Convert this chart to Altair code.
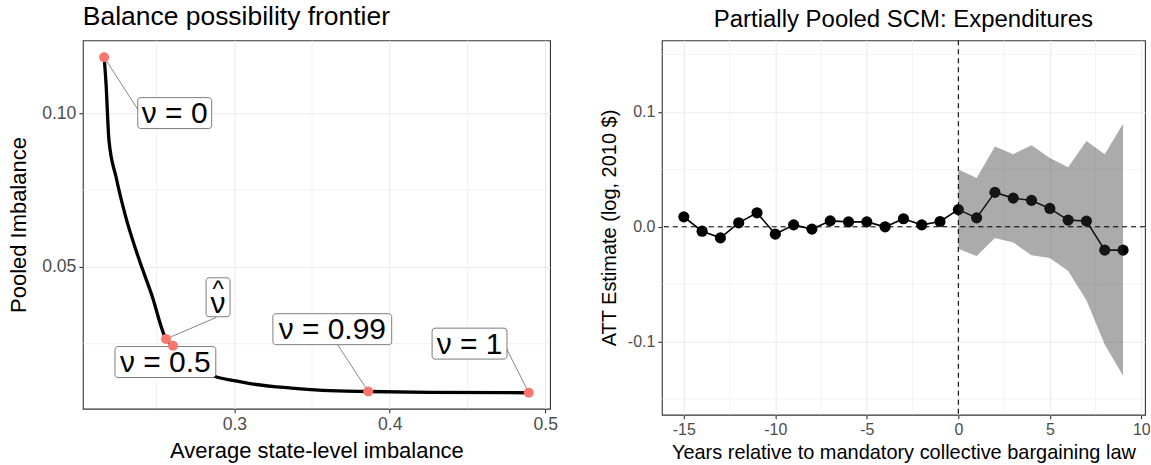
import altair as alt
import pandas as pd

FONT = "Liberation Sans"

# ---------------- Left panel: balance possibility frontier ----------------
frontier_x = [0.2162, 0.2174, 0.2193, 0.2239, 0.2296, 0.2376, 0.2468, 0.2560, 0.2605,
              0.2700, 0.2881, 0.3004, 0.3110, 0.3367, 0.3569, 0.3861, 0.4257, 0.4894]
frontier_y = [0.1183, 0.1098, 0.0912, 0.0792, 0.0672, 0.0540, 0.0409, 0.0265, 0.0243,
              0.0185, 0.0142, 0.0129, 0.0119, 0.0105, 0.0098, 0.0094, 0.0091, 0.0090]

nu_x = [0.2162, 0.2560, 0.2605, 0.3861, 0.4894]
nu_y = [0.1183, 0.0265, 0.0243, 0.0094, 0.0090]
nu_text = ["ν = 0", "ν", "ν = 0.5", "ν = 0.99", "ν = 1"]

# label (ggrepel-style) annotation positions
label_x = [0.2616, 0.2895, 0.2556, 0.3630, 0.4513]
label_y = [0.1001, 0.0401, 0.0190, 0.0297, 0.0250]
seg_end_x = [0.2381, 0.2882, None, 0.3665, 0.4753]
seg_end_y = [0.1011, 0.0335, None, 0.0246, 0.0232]
box_w = [74, 24, 101, 119, 75]
box_h = [31, 39, 31, 31, 31]

left_x_ticks = [0.3, 0.4, 0.5]
left_y_ticks = [0.05, 0.10]
left_x_minor = [0.25, 0.35, 0.45]
left_y_minor = [0.025, 0.075]

# ---------------- Right panel: partially pooled SCM ----------------
years = list(range(-15, 10))
att = [0.0087, -0.0038, -0.0096, 0.0035, 0.0122, -0.0064, 0.0017, -0.0020, 0.0052,
       0.0043, 0.0043, 0.0000, 0.0070, 0.0017, 0.0046, 0.0150, 0.0078, 0.0300,
       0.0250, 0.0230, 0.0160, 0.0058, 0.0050, -0.0203, -0.0203]
ci_years = list(range(0, 10))
ci_lower = [-0.0192, -0.0255, -0.0097, -0.0136, -0.0248, -0.0271, -0.0385, -0.0640, -0.1025, -0.1298]
ci_upper = [0.0500, 0.0425, 0.0700, 0.0633, 0.0711, 0.0600, 0.0518, 0.0748, 0.0633, 0.0898]

right_x_ticks = [-15, -10, -5, 0, 5, 10]
right_y_ticks = [-0.1, 0.0, 0.1]
right_x_minor = [-12.5, -7.5, -2.5, 2.5, 7.5]
right_y_minor = [-0.15, -0.05, 0.05, 0.15]

GRID = "#EBEBEB"
HYPHEN = "replace(datum.label, '\u2212', '-')"

# ======================= LEFT =======================
lx = alt.Scale(domain=[0.2025, 0.5031], nice=False, zero=False)
ly = alt.Scale(domain=[0.0038, 0.1238], nice=False, zero=False)

ax_lx = alt.Axis(values=left_x_ticks, format=".1f", title="Average state-level imbalance",
                 titlePadding=7, labelFontSize=17.6, titleFontSize=22)
ax_ly = alt.Axis(values=left_y_ticks, format=".2f", title="Pooled Imbalance",
                 titlePadding=11, labelFontSize=17.6, titleFontSize=22)

curve_df = pd.DataFrame({"x": frontier_x, "y": frontier_y})
pts_df = pd.DataFrame({"x": nu_x, "y": nu_y})
lab_df = pd.DataFrame({"x": label_x, "y": label_y, "text": nu_text,
                       "sx": seg_end_x, "sy": seg_end_y, "px": nu_x, "py": nu_y})

minor_lx = alt.Chart(pd.DataFrame({"v": left_x_minor})).mark_rule(color=GRID, strokeWidth=0.6).encode(
    x=alt.X("v:Q", scale=lx, axis=ax_lx))
minor_ly = alt.Chart(pd.DataFrame({"v": left_y_minor})).mark_rule(color=GRID, strokeWidth=0.6).encode(
    y=alt.Y("v:Q", scale=ly, axis=ax_ly))

curve = alt.Chart(curve_df).mark_line(color="black", strokeWidth=3.3, interpolate="monotone").encode(
    x=alt.X("x:Q", scale=lx, axis=ax_lx), y=alt.Y("y:Q", scale=ly, axis=ax_ly), order="x:Q")

segs = alt.Chart(lab_df.dropna()).mark_rule(color="#7a7a7a", strokeWidth=0.9).encode(
    x=alt.X("px:Q", scale=lx), y=alt.Y("py:Q", scale=ly), x2="sx:Q", y2="sy:Q")

boxes = []
for i in range(len(nu_text)):
    one = lab_df.iloc[[i]]
    boxes.append(alt.Chart(one).mark_rect(width=box_w[i], height=box_h[i], fill="white",
                                          stroke="#444444", strokeWidth=0.7, cornerRadius=3).encode(
        x=alt.X("x:Q", scale=lx), y=alt.Y("y:Q", scale=ly)))

main_idx = [0, 2, 3, 4]
texts = alt.Chart(lab_df.iloc[main_idx]).mark_text(font=FONT, fontSize=30, color="black",
                                                    baseline="middle", dy=1).encode(
    x=alt.X("x:Q", scale=lx), y=alt.Y("y:Q", scale=ly), text="text:N")
nu_hat = alt.Chart(lab_df.iloc[[1]]).mark_text(font=FONT, fontSize=30, color="black",
                                                baseline="middle", dy=7).encode(
    x=alt.X("x:Q", scale=lx), y=alt.Y("y:Q", scale=ly), text="text:N")
hat = alt.Chart(lab_df.iloc[[1]]).mark_text(font=FONT, fontSize=24, color="black",
                                             baseline="middle", dy=-7).encode(
    x=alt.X("x:Q", scale=lx), y=alt.Y("y:Q", scale=ly), text=alt.value("^"))

pts = alt.Chart(pts_df).mark_circle(color="#F8766D", opacity=1, size=100).encode(
    x=alt.X("x:Q", scale=lx), y=alt.Y("y:Q", scale=ly))

left = alt.layer(minor_lx, minor_ly, curve, segs, *boxes, texts, nu_hat, hat, pts).properties(
    width=468, height=369,
    title=alt.TitleParams("Balance possibility frontier", anchor="start", frame="group", fontSize=26.5,
                          font=FONT, fontWeight="normal", color="black", offset=10))

# ======================= RIGHT =======================
rx = alt.Scale(domain=[-16.2, 10.2], nice=False, zero=False)
ry = alt.Scale(domain=[-0.1636, 0.1624], nice=False, zero=False)
ax_rx = alt.Axis(values=right_x_ticks, format="d", labelExpr=HYPHEN, titlePadding=5,
                 title="Years relative to mandatory collective bargaining law")
ax_ry = alt.Axis(values=right_y_ticks, format=".1f", labelExpr=HYPHEN, titlePadding=8,
                 title="ATT Estimate (log, 2010 $)")

att_df = pd.DataFrame({"year": years, "att": att})
ci_df = pd.DataFrame({"year": ci_years, "lo": ci_lower, "hi": ci_upper})

minor_rx = alt.Chart(pd.DataFrame({"v": right_x_minor})).mark_rule(color=GRID, strokeWidth=0.6).encode(
    x=alt.X("v:Q", scale=rx, axis=ax_rx))
minor_ry = alt.Chart(pd.DataFrame({"v": right_y_minor})).mark_rule(color=GRID, strokeWidth=0.6).encode(
    y=alt.Y("v:Q", scale=ry, axis=ax_ry))

att_line = alt.Chart(att_df).mark_line(color="black", strokeWidth=1.6).encode(
    x=alt.X("year:Q", scale=rx, axis=ax_rx), y=alt.Y("att:Q", scale=ry, axis=ax_ry))
att_pts = alt.Chart(att_df).mark_circle(color="black", opacity=1, size=125).encode(
    x=alt.X("year:Q", scale=rx), y=alt.Y("att:Q", scale=ry))
ribbon = alt.Chart(ci_df).mark_area(color="#333333", opacity=0.41).encode(
    x=alt.X("year:Q", scale=rx), y=alt.Y("lo:Q", scale=ry), y2="hi:Q")
hline = alt.Chart(pd.DataFrame({"v": [0.0]})).mark_rule(color="black", strokeWidth=1.1, strokeDash=[5, 4]).encode(
    y=alt.Y("v:Q", scale=ry))
vline = alt.Chart(pd.DataFrame({"v": [0.0]})).mark_rule(color="black", strokeWidth=1.1, strokeDash=[5, 4]).encode(
    x=alt.X("v:Q", scale=rx))

right = alt.layer(minor_rx, minor_ry, att_line, att_pts, ribbon, hline, vline).properties(
    width=484, height=375,
    title=alt.TitleParams("Partially Pooled SCM: Expenditures", anchor="middle", fontSize=24,
                          font=FONT, fontWeight="normal", color="black", offset=7.5))

chart = alt.hconcat(left, right, spacing=40).properties(
    padding={"left": 7, "top": 2, "right": 0, "bottom": 0}
).configure(font=FONT).configure_view(
    stroke="#333333", strokeWidth=1.1
).configure_axis(
    domain=False, grid=True, gridColor=GRID, gridWidth=1.1,
    tickColor="#333333", tickSize=4, tickWidth=1.1,
    labelFont=FONT, labelFontSize=16, labelColor="#4D4D4D", labelPadding=3,
    titleFont=FONT, titleFontSize=20, titleColor="black", titleFontWeight="normal"
)

chart.save("out.html", embed_options={"renderer": "svg", "actions": False})
